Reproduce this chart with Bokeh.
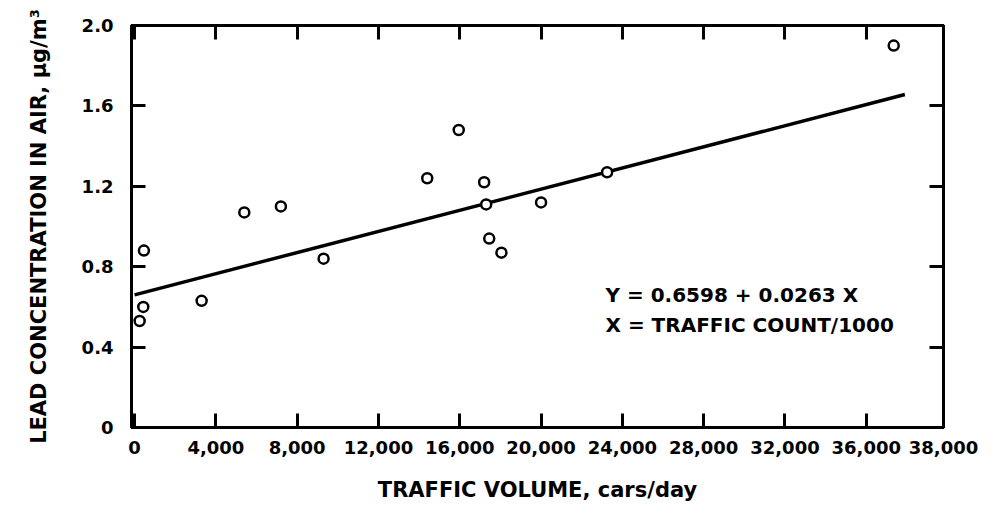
from bokeh.plotting import figure
from bokeh.models import Range1d, FixedTicker, LinearAxis, Label
from bokeh.embed import file_html
from bokeh.resources import INLINE

# ---- data ----
traffic_volume = [250, 430, 460, 3300, 5400, 7200, 9300, 14400, 15950,
                  17200, 17300, 17450, 18050, 20000, 23250, 37350]
lead_conc = [0.53, 0.60, 0.88, 0.63, 1.07, 1.10, 0.84, 1.24, 1.48,
             1.22, 1.11, 0.94, 0.87, 1.12, 1.27, 1.90]

fit_intercept = 0.6598
fit_slope = 0.0263          # per 1000 cars/day
fit_x = [0, 37900]
fit_y = [fit_intercept + fit_slope * x / 1000.0 for x in fit_x]

x_tick_values = [0, 4000, 8000, 12000, 16000, 20000, 24000, 28000, 32000, 36000, 39800]
x_tick_labels = ["0", "4,000", "8,000", "12,000", "16,000", "20,000", "24,000",
                 "28,000", "32,000", "36,000", "38,000"]
y_tick_values = [0, 0.4, 0.8, 1.2, 1.6, 2.0]
y_tick_labels = ["0", "0.4", "0.8", "1.2", "1.6", "2.0"]

x_title = "TRAFFIC VOLUME, cars/day"
y_title = "LEAD CONCENTRATION IN AIR, \u03bcg/m\u00b3"
eq_line1 = "Y = 0.6598  +  0.0263 X"
eq_line2 = "X = TRAFFIC COUNT/1000"

FONT = "DejaVu Sans"

p = figure(width=996, height=508, output_backend="svg", toolbar_location=None,
           x_range=Range1d(-150, 39800), y_range=Range1d(0, 2.0),
           min_border_left=131, min_border_right=53, min_border_top=25,
           min_border_bottom=81, background_fill_color="white",
           border_fill_color="white")
p.grid.visible = False
p.outline_line_color = "black"
p.outline_line_width = 3


def style_axis(ax, show_labels):
    ax.axis_line_color = "black"
    ax.axis_line_width = 3
    ax.major_tick_line_color = "black"
    ax.major_tick_line_width = 3
    ax.major_tick_in = 14
    ax.major_tick_out = 0
    ax.minor_tick_line_color = None
    ax.major_label_text_font = FONT
    ax.major_label_text_font_style = "bold"
    ax.major_label_text_font_size = "18px" if show_labels else "0px"
    ax.major_label_text_color = "black"


xb = p.xaxis[0]
xb.ticker = FixedTicker(ticks=x_tick_values)
xb.major_label_overrides = {v: l for v, l in zip(x_tick_values, x_tick_labels)}
style_axis(xb, True)
xb.major_label_standoff = 13
xb.axis_label = x_title
xb.axis_label_text_font = FONT
xb.axis_label_text_font_style = "bold"
xb.axis_label_text_font_size = "21px"
xb.axis_label_text_color = "black"
xb.axis_label_standoff = 21

yl = p.yaxis[0]
yl.ticker = FixedTicker(ticks=y_tick_values)
yl.major_label_overrides = {v: l for v, l in zip(y_tick_values, y_tick_labels)}
style_axis(yl, True)
yl.major_label_standoff = 18
yl.axis_label = y_title
yl.axis_label_text_font = FONT
yl.axis_label_text_font_style = "bold"
yl.axis_label_text_font_size = "21px"
yl.axis_label_text_color = "black"
yl.axis_label_standoff = 28

xt = LinearAxis(ticker=FixedTicker(ticks=x_tick_values))
style_axis(xt, False)
xt.major_label_standoff = 0
p.add_layout(xt, "above")

yr = LinearAxis(ticker=FixedTicker(ticks=y_tick_values))
style_axis(yr, False)
yr.major_label_standoff = 0
p.add_layout(yr, "right")

# regression line and data points
p.line(fit_x, fit_y, line_color="black", line_width=3.5)
p.scatter(traffic_volume, lead_conc, marker="circle", size=10,
          fill_color="white", line_color="black", line_width=2.5)

# equation annotation
p.add_layout(Label(x=23171, y=0.657, text=eq_line1, text_align="left",
                   text_baseline="alphabetic", text_font=FONT,
                   text_font_style="bold", text_font_size="20px",
                   text_color="black"))
p.add_layout(Label(x=23171, y=0.512, text=eq_line2, text_align="left",
                   text_baseline="alphabetic", text_font=FONT,
                   text_font_style="bold", text_font_size="20px",
                   text_color="black"))

open("out.html", "w").write(file_html(p, INLINE))
